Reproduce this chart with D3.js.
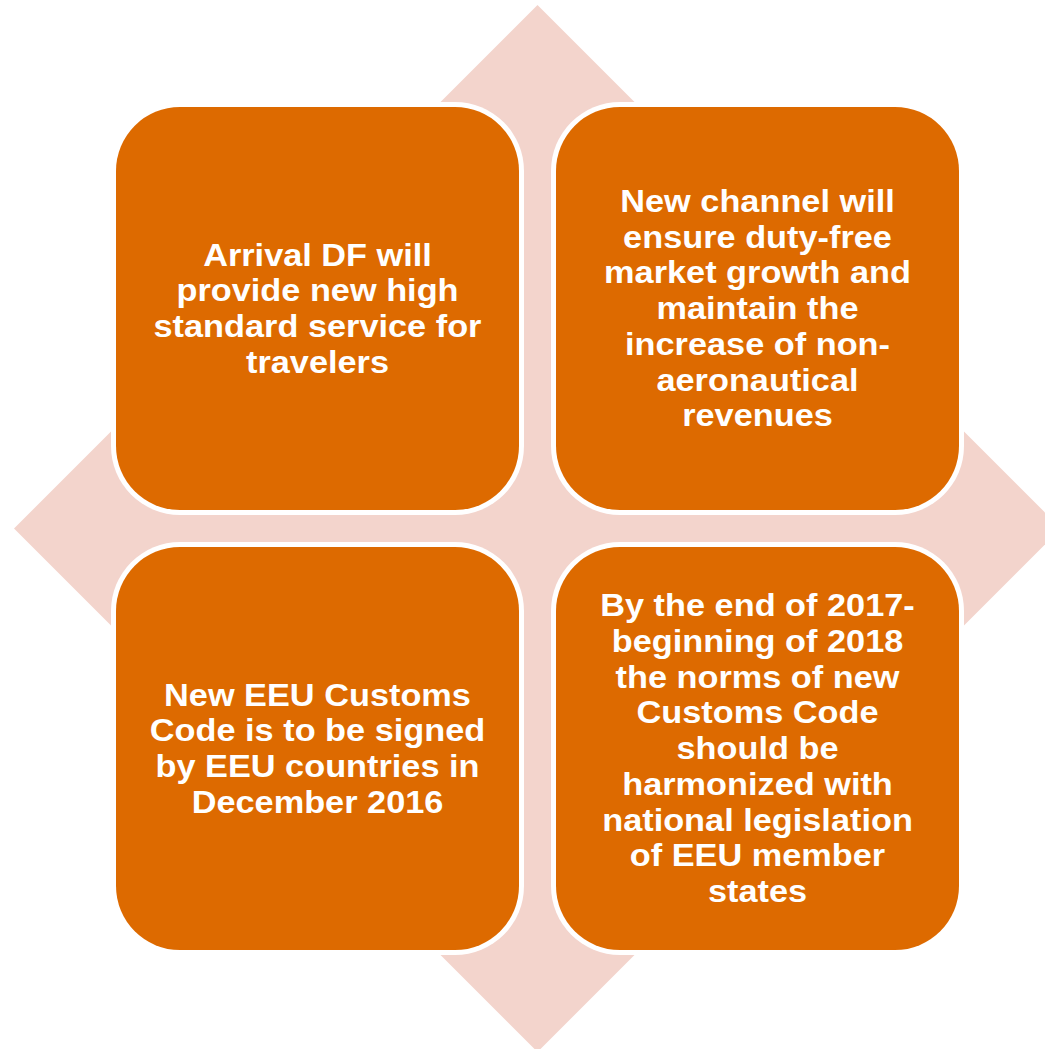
<!DOCTYPE html>
<html>
<head>
<meta charset="utf-8">
<script src="https://cdn.jsdelivr.net/npm/d3@7"></script>
<style>
  html, body { margin: 0; padding: 0; background: #ffffff; }
  svg { display: block; }
</style>
</head>
<body>
<svg id="chart" width="1045" height="1049"></svg>
<script>
// ---- data ----
const cols = [0, 1, 0, 1];
const rows = [0, 0, 1, 1];
const labels = [
  ["Arrival DF will", "provide new high", "standard service for", "travelers"],
  ["New channel will", "ensure duty-free", "market growth and", "maintain the", "increase of non-", "aeronautical", "revenues"],
  ["New EEU Customs", "Code is to be signed", "by EEU countries in", "December 2016"],
  ["By the end of 2017-", "beginning of 2018", "the norms of new", "Customs Code", "should be", "harmonized with", "national legislation", "of EEU member", "states"]
];

const W = 1045, H = 1049;
const orange = "#DD6A00";
const pink = "#F3D4CC";
const svg = d3.select("#chart");

const x = d3.scaleBand().domain([0, 1]).range([116, 959]).paddingInner(0.0841).paddingOuter(0);
const y = d3.scaleBand().domain([0, 1]).range([107, 950]).paddingInner(0.0841).paddingOuter(0);

// background diamond
const cx = (x.range()[0] + x.range()[1]) / 2;
const cy = (y.range()[0] + y.range()[1]) / 2;
const half = cy - 5;
svg.append("path")
  .attr("d", d3.line()([[cx, cy - half], [cx + half, cy], [cx, cy + half], [cx - half, cy]]) + "Z")
  .attr("fill", pink);

const r = 64, border = 5;
const g = svg.selectAll("g.cell").data(labels).enter().append("g").attr("class", "cell");

g.append("rect")
  .attr("x", (d, i) => x(cols[i]) - border)
  .attr("y", (d, i) => y(rows[i]) - border)
  .attr("width", x.bandwidth() + 2 * border)
  .attr("height", y.bandwidth() + 2 * border)
  .attr("rx", r + border).attr("ry", r + border)
  .attr("fill", "#ffffff");

g.append("rect")
  .attr("x", (d, i) => x(cols[i]))
  .attr("y", (d, i) => y(rows[i]))
  .attr("width", x.bandwidth())
  .attr("height", y.bandwidth())
  .attr("rx", r).attr("ry", r)
  .attr("fill", orange);

const lh = 35.7;
g.each(function(d, i) {
  const bx = x(cols[i]) + x.bandwidth() / 2;
  const by = y(rows[i]) + y.bandwidth() / 2;
  const t = d3.select(this).append("text")
    .attr("transform", `translate(${bx},0) scale(1.125,1)`)
    .attr("text-anchor", "middle")
    .attr("font-family", "'Liberation Sans', Arial, sans-serif")
    .attr("font-weight", "bold")
    .attr("font-size", 30.5)
    .attr("fill", "#ffffff");
  const n = d.length;
  d.forEach((line, k) => {
    t.append("tspan")
      .attr("x", 0)
      .attr("y", by + (k - (n - 1) / 2) * lh)
      .attr("dy", "0.35em")
      .text(line);
  });
});
</script>
</body>
</html>
